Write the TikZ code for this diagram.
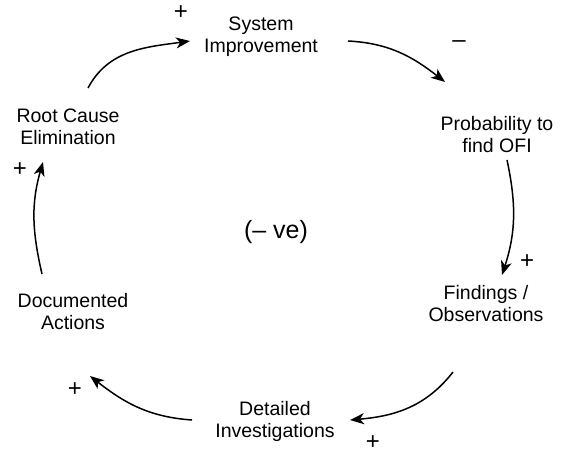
\documentclass[tikz,border=0pt]{standalone}
\usepackage{fontspec}
\setmainfont{Liberation Sans}
\usetikzlibrary{arrows.meta}
\tikzset{
    factor/.style = {align=center, inner sep=0pt,
        font=\fontsize{19.5}{22}\selectfont},
    sign/.style = {inner sep=0pt, font=\fontsize{24}{26}\selectfont},
    link/.style = {draw, line width=1.5pt,
        -{Stealth[length=14pt,width=11pt,inset=4pt]}}
}

\begin{document}
\begin{tikzpicture}[x=1pt, y=1pt]
    \useasboundingbox (0,0) rectangle (564,452);
    % loop variables
    \node [factor] (sys) at (261,415) {System\\Improvement};
    \node [factor] (prob) at (497,317) {Probability to\\find OFI};
    \node [factor] (find) at (486,148) {Findings /\\Observations};
    \node [factor] (det) at (275,31) {Detailed\\Investigations};
    \node [factor] (doc) at (73,140) {Documented\\Actions};
    \node [factor] (root) at (68,325) {Root Cause\\Elimination};
    \node [factor, font=\fontsize{25}{28}\selectfont] (loop) at (276,220) {(– ve)};
    % ends of the links
    \coordinate (root-out) at (88,364);  \coordinate (sys-in) at (190,411);
    \coordinate (sys-out) at (348,411);  \coordinate (prob-in) at (445,370);
    \coordinate (prob-out) at (507,292); \coordinate (find-in) at (502,177);
    \coordinate (find-out) at (453,80);  \coordinate (det-in) at (350,32);
    \coordinate (det-out) at (192,32);   \coordinate (doc-in) at (90,76);
    \coordinate (doc-out) at (42,178);   \coordinate (root-in) at (43,290);
    \draw [link] (root-out) to[out=62,in=188] (sys-in);
    \draw [link] (sys-out) to[out=-3,in=142] (prob-in);
    \draw [link] (prob-out) to[out=-78,in=72] (find-in);
    \draw [link] (find-out) to[out=-128,in=5] (det-in);
    \draw [link] (det-out) to[out=176,in=-38] (doc-in);
    \draw [link] (doc-out) to[out=103,in=-106] (root-in);
    % polarities
    \foreach \x/\y/\s [count=\i] in {181/439/+, 459/408/–, 527/190/+,
        373/9/+, 75/62/+, 20/282/+}{
        \node [sign] (pol\i) at (\x,\y) {\s};
    }
\end{tikzpicture}
\end{document}
